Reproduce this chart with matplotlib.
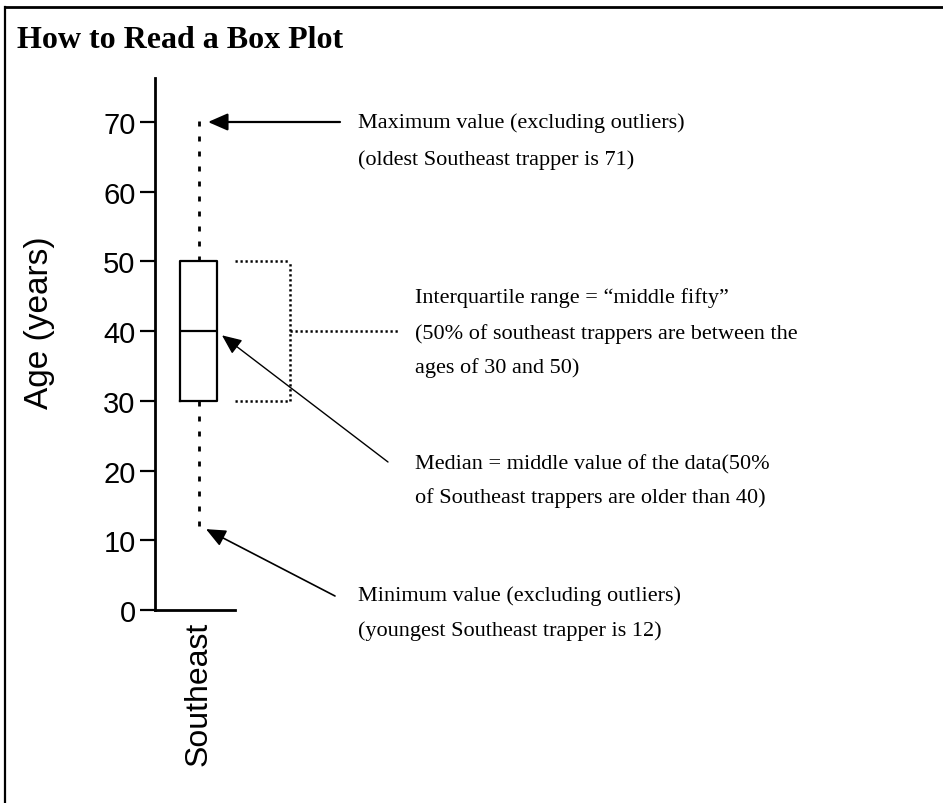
import matplotlib
matplotlib.use('Agg')
import matplotlib.pyplot as plt
from matplotlib.lines import Line2D
from matplotlib.transforms import IdentityTransform, blended_transform_factory

# ---- data ----
categories = ['Southeast']
whisker_low = [12]
q1 = [30]
medians = [40]
q3 = [50]
whisker_high = [71]
yticks = [0, 10, 20, 30, 40, 50, 60, 70]

title = 'How to Read a Box Plot'
ylabel = 'Age (years)'
max_lines = ['Maximum value (excluding outliers)', '(oldest Southeast trapper is 71)']
iqr_lines = ['Interquartile range = \u201cmiddle fifty\u201d',
             '(50% of southeast trappers are between the',
             'ages of 30 and 50)']
med_lines = ['Median = middle value of the data(50%',
             'of Southeast trappers are older than 40)']
min_lines = ['Minimum value (excluding outliers)', '(youngest Southeast trapper is 12)']

SERIF = ['Liberation Serif', 'DejaVu Serif']
SANS = ['Liberation Sans', 'DejaVu Sans']

W, H = 943, 804
fig = plt.figure(figsize=(W / 100, H / 100), dpi=100)
fig.patch.set_facecolor('white')

def fx(x):
    return x / W

def fy(y):
    return 1 - y / H

# outer frame (top and left visible)
fig.add_artist(Line2D([fx(5), fx(5)], [fy(8), fy(810)], transform=fig.transFigure,
                      color='black', lw=1.6))
fig.add_artist(Line2D([fx(5), fx(950)], [fy(8), fy(8)], transform=fig.transFigure,
                      color='black', lw=2.0))

# axes
ax = fig.add_axes([fx(155), fy(611), 80 / W, (611 - 79) / H])
stats = [dict(label=c, whislo=wl, q1=a, med=m, q3=b, whishi=wh)
         for c, wl, a, m, b, wh in zip(categories, whisker_low, q1, medians, q3, whisker_high)]
ax.bxp(stats, positions=[1], widths=0.4625, showfliers=False, showcaps=False,
       boxprops=dict(color='black', lw=1.6),
       medianprops=dict(color='black', lw=1.6),
       whiskerprops=dict(color='black', lw=2.0, linestyle=(0, (1.8, 3.6))))
ax.set_xlim(0.456, 1.456)
ax.set_ylim(0, 76.3)
ax.set_yticks(yticks)
ax.set_yticklabels([str(t) for t in yticks], fontfamily=SANS, fontsize=21)
ax.set_xticks([1])
ax.set_xticklabels(categories, rotation=90, fontfamily=SANS, fontsize=23, va='top')
ax.tick_params(axis='y', length=11, width=1.6, pad=3.0)
ax.tick_params(axis='x', length=0, pad=8)
for s in ['top', 'right']:
    ax.spines[s].set_visible(False)
for s in ['left', 'bottom']:
    ax.spines[s].set_linewidth(2.0)

# titles
fig.text(fx(17), fy(40), title, fontfamily=SERIF, fontweight='bold', fontsize=23,
         ha='left', va='center')
fig.text(fx(40), fy(323), ylabel, fontfamily=SANS, fontsize=24, rotation=90,
         ha='center', va='center')

# IQR bracket (x in pixels, y in data)
bt = blended_transform_factory(IdentityTransform(), ax.transData)
dot = dict(color='black', lw=1.8, linestyle=(0, (0.9, 1.1)), clip_on=False, transform=bt)
ax.add_line(Line2D([235, 290], [q3[0], q3[0]], **dot))
ax.add_line(Line2D([235, 290], [q1[0], q1[0]], **dot))
ax.add_line(Line2D([290, 290], [q1[0], q3[0]], **dot))
ax.add_line(Line2D([290, 400], [medians[0], medians[0]], **dot))

# arrows
def arrow(tip_x_px, tip_y, tail_px, lw):
    ax.annotate('', xy=(tip_x_px, H - (611 - tip_y * (611 - 123) / 70)),
                xycoords='figure pixels',
                xytext=(tail_px[0], H - tail_px[1]), textcoords='figure pixels',
                arrowprops=dict(arrowstyle='-|>,head_length=0.8,head_width=0.35',
                                mutation_scale=15, lw=lw, color='black',
                                shrinkA=0, shrinkB=0))

arrow(208, 70, (340, 123), 1.6)
arrow(222, medians[0] - 0.6, (388, 463), 1.0)
arrow(206, whisker_low[0] - 0.4, (335, 597), 1.2)

# annotation texts
def block(x, ys, lines):
    for y, t in zip(ys, lines):
        fig.text(fx(x), fy(y), t, fontfamily=SERIF, fontsize=16, ha='left', va='center')

block(358, [123, 160], max_lines)
block(415, [298, 334, 368], iqr_lines)
block(415, [465, 498], med_lines)
block(358, [596, 631], min_lines)

fig.savefig('out.png', dpi=100, facecolor='white')
